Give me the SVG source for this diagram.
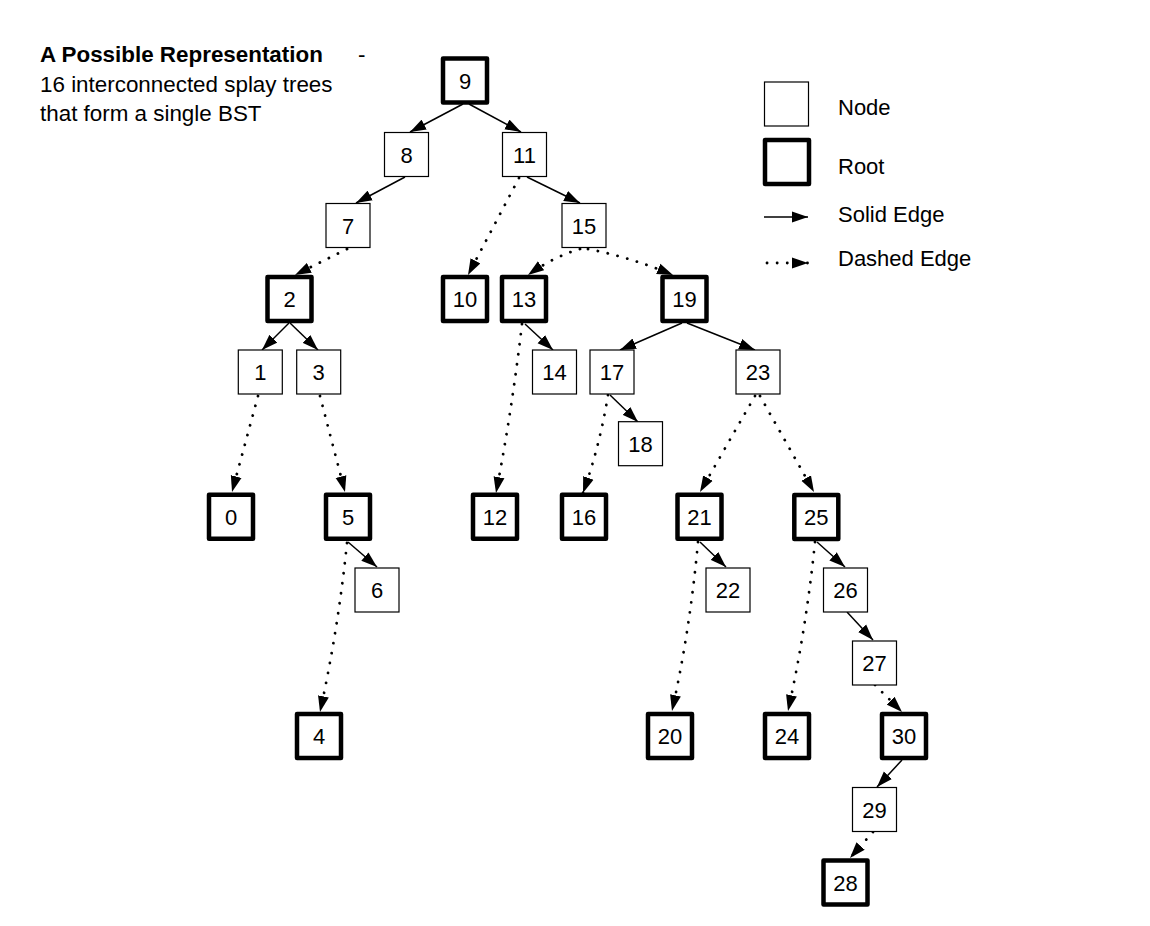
<svg xmlns="http://www.w3.org/2000/svg" width="1150" height="926" viewBox="0 0 1150 926">
<style>
text{font-family:"Liberation Sans",Arial,Helvetica,sans-serif;fill:#000}
.lbl{font-size:22px;text-anchor:middle}
.leg{font-size:22px}
.t{font-size:22.4px}
.n{fill:#fff;stroke:#000;stroke-width:1.2}
.r{fill:#fff;stroke:#000;stroke-width:4.5;stroke-linejoin:round}
.s{fill:none;stroke:#000;stroke-width:1.5;marker-end:url(#ah)}
.d{fill:none;stroke:#000;stroke-width:2.8;stroke-dasharray:0.1 10;stroke-linecap:round;marker-end:url(#ah)}
</style>
<defs>
<marker id="ah" markerUnits="userSpaceOnUse" markerWidth="17" markerHeight="12" refX="16" refY="6" orient="auto">
<path d="M0,0.5 L16,6 L0,11.5 z" fill="#000"/>
</marker>
</defs>
<rect width="1150" height="926" fill="#fff"/>
<g id="title">
<text class="t" x="40" y="62" style="font-weight:bold">A Possible Representation</text>
<text class="t" x="358" y="62">-</text>
<text class="t" x="40" y="92">16 interconnected splay trees</text>
<text class="t" x="40" y="121">that form a single BST</text>
</g>
<g id="legend">
<rect class="n" x="764.5" y="82" width="44" height="44"/>
<text class="leg" x="838" y="115">Node</text>
<rect class="r" x="765" y="140" width="44" height="44"/>
<text class="leg" x="838" y="174">Root</text>
<line class="s" x1="764" y1="217" x2="808" y2="217"/>
<text class="leg" x="838" y="222">Solid Edge</text>
<line class="d" x1="767" y1="263" x2="808" y2="263"/>
<text class="leg" x="838" y="266">Dashed Edge</text>
</g>
<g id="edges">
<line class="s" x1="463" y1="104" x2="410" y2="132"/>
<line class="s" x1="469" y1="104" x2="521" y2="132"/>
<line class="s" x1="405" y1="177" x2="356" y2="203"/>
<line class="s" x1="527" y1="177" x2="580" y2="203"/>
<line class="d" x1="519" y1="178" x2="468" y2="275"/>
<line class="d" x1="347" y1="249" x2="295" y2="275"/>
<path class="d" d="M580,249 Q555,256 528,275"/>
<path class="d" d="M588,249 Q630,257 673,275"/>
<line class="s" x1="289" y1="323" x2="262" y2="350"/>
<line class="s" x1="290" y1="323" x2="318" y2="350"/>
<line class="s" x1="525" y1="324" x2="553" y2="350"/>
<path class="d" d="M522,324 Q512,410 496,493"/>
<line class="s" x1="682" y1="323" x2="620" y2="350"/>
<line class="s" x1="687" y1="323" x2="755" y2="350"/>
<line class="s" x1="610" y1="395" x2="638" y2="422"/>
<path class="d" d="M608,395 Q600,445 583,493"/>
<line class="d" x1="258" y1="396" x2="232" y2="492"/>
<line class="d" x1="320" y1="396" x2="345" y2="492"/>
<line class="d" x1="755" y1="396" x2="700" y2="492"/>
<line class="d" x1="760" y1="396" x2="814" y2="492"/>
<line class="s" x1="348" y1="542" x2="377" y2="567"/>
<path class="d" d="M347,543 Q338,630 320,712"/>
<line class="s" x1="700" y1="542" x2="726" y2="567"/>
<path class="d" d="M698,542 Q690,630 672,711"/>
<line class="s" x1="817" y1="542" x2="845" y2="567"/>
<path class="d" d="M815,542 Q806,630 788,711"/>
<line class="s" x1="847" y1="612" x2="873" y2="640"/>
<line class="d" x1="875" y1="685" x2="902" y2="712"/>
<line class="s" x1="902" y1="760" x2="877" y2="787"/>
<line class="d" x1="873" y1="832" x2="850" y2="858"/>
</g>
<g id="n9"><rect class="r" x="443" y="58.5" width="44" height="44"/><text class="lbl" x="465" y="88.5">9</text></g>
<g id="n8"><rect class="n" x="384.5" y="132.5" width="44" height="44"/><text class="lbl" x="406.5" y="162.5">8</text></g>
<g id="n11"><rect class="n" x="502.5" y="132.5" width="44" height="44"/><text class="lbl" x="524.5" y="162.5">11</text></g>
<g id="n7"><rect class="n" x="326" y="203.5" width="44" height="44"/><text class="lbl" x="348" y="233.5">7</text></g>
<g id="n15"><rect class="n" x="562" y="203.5" width="44" height="44"/><text class="lbl" x="584" y="233.5">15</text></g>
<g id="n2"><rect class="r" x="267.5" y="277" width="44" height="44"/><text class="lbl" x="289.5" y="307">2</text></g>
<g id="n10"><rect class="r" x="443" y="277" width="44" height="44"/><text class="lbl" x="465" y="307">10</text></g>
<g id="n13"><rect class="r" x="502" y="277" width="44" height="44"/><text class="lbl" x="524" y="307">13</text></g>
<g id="n19"><rect class="r" x="662.5" y="277" width="44" height="44"/><text class="lbl" x="684.5" y="307">19</text></g>
<g id="n1"><rect class="n" x="238.3" y="350" width="44" height="44"/><text class="lbl" x="260.3" y="380">1</text></g>
<g id="n3"><rect class="n" x="296.7" y="350" width="44" height="44"/><text class="lbl" x="318.7" y="380">3</text></g>
<g id="n14"><rect class="n" x="532.5" y="350" width="44" height="44"/><text class="lbl" x="554.5" y="380">14</text></g>
<g id="n17"><rect class="n" x="590" y="350" width="44" height="44"/><text class="lbl" x="612" y="380">17</text></g>
<g id="n23"><rect class="n" x="736" y="350" width="44" height="44"/><text class="lbl" x="758" y="380">23</text></g>
<g id="n18"><rect class="n" x="618.5" y="421.7" width="44" height="44"/><text class="lbl" x="640.5" y="451.7">18</text></g>
<g id="n0"><rect class="r" x="209" y="494.7" width="44" height="44"/><text class="lbl" x="231" y="524.7">0</text></g>
<g id="n5"><rect class="r" x="326" y="494.7" width="44" height="44"/><text class="lbl" x="348" y="524.7">5</text></g>
<g id="n12"><rect class="r" x="473" y="494.7" width="44" height="44"/><text class="lbl" x="495" y="524.7">12</text></g>
<g id="n16"><rect class="r" x="562" y="494.7" width="44" height="44"/><text class="lbl" x="584" y="524.7">16</text></g>
<g id="n21"><rect class="r" x="677.5" y="494.7" width="44" height="44"/><text class="lbl" x="699.5" y="524.7">21</text></g>
<g id="n25"><rect class="r" x="794.3" y="495" width="44" height="44"/><text class="lbl" x="816.3" y="525">25</text></g>
<g id="n6"><rect class="n" x="355" y="568" width="44" height="44"/><text class="lbl" x="377" y="598">6</text></g>
<g id="n22"><rect class="n" x="706" y="568" width="44" height="44"/><text class="lbl" x="728" y="598">22</text></g>
<g id="n26"><rect class="n" x="823.5" y="568" width="44" height="44"/><text class="lbl" x="845.5" y="598">26</text></g>
<g id="n27"><rect class="n" x="852.5" y="641" width="44" height="44"/><text class="lbl" x="874.5" y="671">27</text></g>
<g id="n4"><rect class="r" x="297" y="714" width="44" height="44"/><text class="lbl" x="319" y="744">4</text></g>
<g id="n20"><rect class="r" x="648" y="714" width="44" height="44"/><text class="lbl" x="670" y="744">20</text></g>
<g id="n24"><rect class="r" x="765" y="714" width="44" height="44"/><text class="lbl" x="787" y="744">24</text></g>
<g id="n30"><rect class="r" x="882" y="714" width="44" height="44"/><text class="lbl" x="904" y="744">30</text></g>
<g id="n29"><rect class="n" x="852.5" y="787.5" width="44" height="44"/><text class="lbl" x="874.5" y="817.5">29</text></g>
<g id="n28"><rect class="r" x="823.5" y="860.5" width="44" height="44"/><text class="lbl" x="845.5" y="890.5">28</text></g>
</svg>
